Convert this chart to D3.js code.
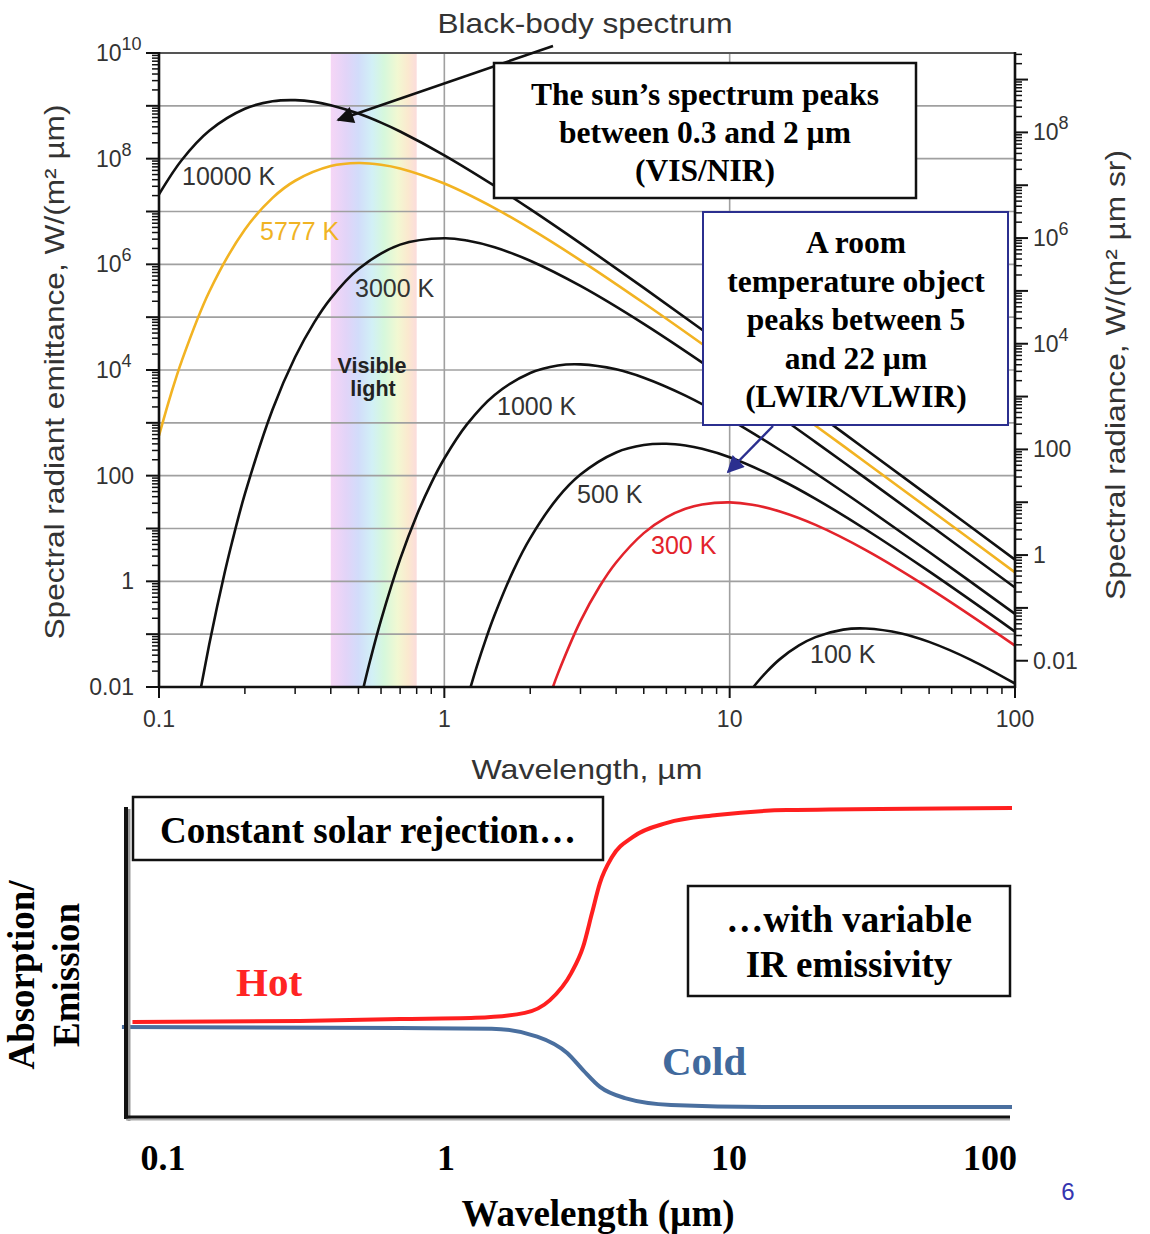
<!DOCTYPE html>
<html><head><meta charset="utf-8">
<script src="https://cdn.jsdelivr.net/npm/d3@7"></script>
<style>body{margin:0;background:#fff}svg{display:block}</style>
</head><body>
<svg id="c" width="1150" height="1234"></svg>
<script>
// ---------- DATA (top panel: spectral radiant emittance, W/(m² µm)) ----------
const temperatures = ["10000 K","5777 K","3000 K","1000 K","500 K","300 K","100 K"];
const wave10000 = [0.1,0.12,0.15,0.2,0.25,0.3,0.35,0.4,0.5,0.6,0.7,1,1.5,2,3,5,10,20,30,50,100];
const emit10000 = [2.11e7,9.33e7,3.37e8,8.79e8,1.22e9,1.28e9,1.19e9,1.03e9,7.14e8,4.81e8,3.27e8,1.16e8,3.06e7,1.11e7,2.50e6,3.59e5,2.42e4,1.57e3,313,41.0,2.58];
const wave5777 = [0.1,0.11,0.12,0.15,0.2,0.25,0.3,0.4,0.5,0.6,0.7,1,1.5,2,3,5,10,20,30,50,100];
const emit5777 = [571,3.41e3,1.46e4,3.03e5,4.57e6,1.81e7,3.82e7,7.24e7,8.28e7,7.69e7,6.53e7,3.38e7,1.16e7,4.73e6,1.19e6,1.85e5,1.32e4,881,178,23.4,1.48];
const wave3000 = [0.14,0.15,0.16,0.17,0.18,0.2,0.25,0.3,0.35,0.4,0.5,0.7,1,1.2,1.5,2,3,5,10,20,30,50,100];
const emit3000 = [0.00923,0.0641,0.342,1.48,5.31,45.1,1.79e3,1.76e4,7.98e4,2.27e5,8.17e5,2.36e6,3.12e6,2.82e6,2.10e6,1.17e6,3.90e5,7.45e4,6.08e3,432,88.9,11.9,0.762];
const wave1000 = [0.52,0.55,0.6,0.7,0.8,0.9,1,1.2,1.5,2,2.5,3,4,5,7,10,15,20,30,50,100];
const emit1000 = [0.00946,0.0324,0.185,2.64,17.7,72.3,211,933,3.37e3,8.79e3,1.22e4,1.28e4,1.03e4,7.14e3,3.27e3,1.16e3,306,111,25.0,3.59,0.242];
const wave500 = [1.2,1.3,1.4,1.5,1.75,2,2.5,3,4,5,6,7,8,10,15,20,30,50,100];
const emit500 = [0.00579,0.0245,0.0824,0.230,1.65,6.59,38.4,105,275,380,401,371,322,223,84.7,36.4,9.57,1.54,0.112];
const wave300 = [2.4,2.5,3,3.5,4,5,6,7,8,10,12,15,20,30,50,100];
const emit300 = [0.00984,0.0179,0.176,0.798,2.27,8.18,16.3,23.6,28.5,31.2,28.2,21.0,11.7,3.90,0.743,0.0608];
const wave100 = [12,12.5,13.5,15,17.5,20,25,30,40,50,70,100];
const emit100 = [0.00933,0.0123,0.0196,0.0337,0.0612,0.0879,0.122,0.128,0.103,0.0714,0.0327,0.0116];
const visibleBand = [0.4, 0.8];

const topXTicks = [0.1, 1, 10, 100];
const topXTickLabels = ["0.1", "1", "10", "100"];
const leftTickValues = [0.01, 1, 100, 1e4, 1e6, 1e8, 1e10];
const leftTickLabels = [["0.01",""],["1",""],["100",""],["10","4"],["10","6"],["10","8"],["10","10"]];
const rightTickValues = [0.01, 1, 100, 1e4, 1e6, 1e8];
const rightTickLabels = [["0.01",""],["1",""],["100",""],["10","4"],["10","6"],["10","8"]];

// ---------- DATA (bottom panel: absorption / emission, relative) ----------
const hotWave  = [0.078,0.305,0.688,1.27,1.90,2.33,2.77,3.05,3.28,3.50,3.86,4.58,6.04,9.07,16.0,100];
const hotValue = [0.309,0.312,0.318,0.322,0.338,0.379,0.466,0.550,0.659,0.756,0.839,0.904,0.949,0.974,0.990,0.997];
const coldWave  = [0.0716,0.688,1.45,2.10,2.68,3.05,3.50,4.29,6.24,16.0,100];
const coldValue = [0.293,0.289,0.287,0.262,0.209,0.154,0.100,0.064,0.042,0.035,0.035];
const bottomXTicks = [0.1, 1, 10, 100];
const bottomXTickLabels = ["0.1", "1", "10", "100"];

// ---------- DRAWING ----------
const svg = d3.select("#c");
const SANS = "'Liberation Sans', Arial, Helvetica, sans-serif";
const SERIF = "'Liberation Serif', 'Times New Roman', serif";
const defs = svg.append("defs");

const x = d3.scaleLog().domain([0.1, 100]).range([159, 1015]);
const y = d3.scaleLog().domain([0.01, 1e10]).range([687, 53]);
const yR = d3.scaleLog().domain([0.01 / Math.PI, 1e10 / Math.PI]).range([687, 53]);

// visible band gradient
const grad = defs.append("linearGradient").attr("id", "vis").attr("x1", "0").attr("x2", "1").attr("y1", "0").attr("y2", "0");
[["0%","#f6d6f6"],["18%","#e2d4f8"],["32%","#d2dcfa"],["48%","#d2f0f6"],["62%","#d6f8dc"],["78%","#f2f8d2"],["90%","#fbe9cf"],["100%","#fbdcdc"]]
  .forEach(s => grad.append("stop").attr("offset", s[0]).attr("stop-color", s[1]));
svg.append("rect").attr("x", x(visibleBand[0])).attr("y", y(1e10))
  .attr("width", x(visibleBand[1]) - x(visibleBand[0])).attr("height", y(0.01) - y(1e10))
  .attr("fill", "url(#vis)");

// gridlines
const gridY = [];
for (let e = -1; e <= 9; e++) gridY.push(Math.pow(10, e));
svg.append("g").selectAll("line").data(gridY).join("line")
  .attr("x1", x(0.1)).attr("x2", x(100)).attr("y1", d => y(d)).attr("y2", d => y(d))
  .attr("stroke", "#a0a0a0").attr("stroke-width", 1.6);
svg.append("g").selectAll("line").data([1, 10]).join("line")
  .attr("x1", d => x(d)).attr("x2", d => x(d)).attr("y1", y(1e10)).attr("y2", y(0.01))
  .attr("stroke", "#a0a0a0").attr("stroke-width", 1.6);

// curves
defs.append("clipPath").attr("id", "plot").append("rect")
  .attr("x", x(0.1)).attr("y", y(1e10)).attr("width", x(100) - x(0.1)).attr("height", y(0.01) - y(1e10));
const series = [
  [wave10000, emit10000, "#111"], [wave5777, emit5777, "#f2b322"], [wave3000, emit3000, "#111"],
  [wave1000, emit1000, "#111"], [wave500, emit500, "#111"], [wave300, emit300, "#e3232b"], [wave100, emit100, "#111"]
];
const line = d3.line().x(d => x(d[0])).y(d => y(d[1])).curve(d3.curveCatmullRom.alpha(0.5));
const gc = svg.append("g").attr("clip-path", "url(#plot)");
series.forEach(s => {
  gc.append("path").datum(d3.zip(s[0], s[1])).attr("d", line)
    .attr("fill", "none").attr("stroke", s[2]).attr("stroke-width", 2.6);
});

// axis ticks
const majorDec = [], minorL = [];
for (let e = -2; e <= 10; e++) {
  majorDec.push(Math.pow(10, e));
  if (e < 10) for (let k = 2; k <= 9; k++) minorL.push(k * Math.pow(10, e));
}
const gAx = svg.append("g").attr("stroke", "#111");
gAx.selectAll(".lm").data(majorDec).join("line").attr("x1", x(0.1) - 13).attr("x2", x(0.1)).attr("y1", d => y(d)).attr("y2", d => y(d)).attr("stroke-width", 2);
gAx.selectAll(".ln").data(minorL).join("line").attr("x1", x(0.1) - 7).attr("x2", x(0.1)).attr("y1", d => y(d)).attr("y2", d => y(d)).attr("stroke-width", 1.5);
const majorR = [], minorR = [];
for (let e = -2; e <= 9; e++) {
  majorR.push(Math.pow(10, e));
  for (let k = 2; k <= 9; k++) minorR.push(k * Math.pow(10, e));
}
minorR.push(2e-3, 3e-3);
const [rlo, rhi] = yR.domain();
gAx.selectAll(".rm").data(majorR.filter(d => d >= rlo && d <= rhi)).join("line").attr("x1", x(100)).attr("x2", x(100) + 13).attr("y1", d => yR(d)).attr("y2", d => yR(d)).attr("stroke-width", 2);
gAx.selectAll(".rn").data(minorR.filter(d => d >= rlo && d <= rhi)).join("line").attr("x1", x(100)).attr("x2", x(100) + 7).attr("y1", d => yR(d)).attr("y2", d => yR(d)).attr("stroke-width", 1.5);
const minorX = [];
for (let e = -1; e <= 1; e++) for (let k = 2; k <= 9; k++) minorX.push(k * Math.pow(10, e));
gAx.selectAll(".xm").data(topXTicks).join("line").attr("x1", d => x(d)).attr("x2", d => x(d)).attr("y1", y(0.01)).attr("y2", y(0.01) + 11).attr("stroke-width", 2);
gAx.selectAll(".xn").data(minorX).join("line").attr("x1", d => x(d)).attr("x2", d => x(d)).attr("y1", y(0.01)).attr("y2", y(0.01) + 7).attr("stroke-width", 1.5);

// frame
svg.append("line").attr("x1", x(0.1)).attr("x2", x(100)).attr("y1", y(1e10)).attr("y2", y(1e10)).attr("stroke", "#555").attr("stroke-width", 2);
svg.append("line").attr("x1", x(0.1)).attr("x2", x(0.1)).attr("y1", y(1e10) - 1).attr("y2", y(0.01) + 1).attr("stroke", "#111").attr("stroke-width", 2.6);
svg.append("line").attr("x1", x(100)).attr("x2", x(100)).attr("y1", y(1e10) - 1).attr("y2", y(0.01) + 1).attr("stroke", "#111").attr("stroke-width", 2.6);
svg.append("line").attr("x1", x(0.1) - 1).attr("x2", x(100) + 1).attr("y1", y(0.01)).attr("y2", y(0.01)).attr("stroke", "#111").attr("stroke-width", 2.6);

// tick labels
const tl = svg.append("g").attr("font-family", SANS).attr("fill", "#333").attr("font-size", 23);
topXTicks.forEach((v, i) => tl.append("text").attr("x", x(v)).attr("y", y(0.01) + 40).attr("text-anchor", "middle").text(topXTickLabels[i]));
function powLabel(g, xx, yy, lab, anchorEnd) {
  const t = g.append("text").attr("y", yy + 8);
  if (lab[1] === "") {
    t.attr("x", xx).attr("text-anchor", anchorEnd ? "end" : "start").text(lab[0]);
  } else {
    t.attr("x", anchorEnd ? 96 : xx).attr("text-anchor", "start");
    t.append("tspan").text(lab[0]);
    t.append("tspan").attr("dy", -11).attr("font-size", 18).text(lab[1]);
  }
}
leftTickValues.forEach((v, i) => powLabel(tl, 134, y(v), leftTickLabels[i], true));
rightTickValues.forEach((v, i) => powLabel(tl, 1033, yR(v), rightTickLabels[i], false));

// axis titles & title
svg.append("text").attr("x", 585).attr("y", 33).attr("text-anchor", "middle").attr("font-family", SANS)
  .attr("font-size", 28).attr("fill", "#333").attr("textLength", 295).attr("lengthAdjust", "spacingAndGlyphs").text("Black-body spectrum");
svg.append("text").attr("x", 587).attr("y", 779).attr("text-anchor", "middle").attr("font-family", SANS)
  .attr("font-size", 28).attr("fill", "#333").attr("textLength", 231).attr("lengthAdjust", "spacingAndGlyphs").text("Wavelength, µm");
svg.append("text").attr("transform", "translate(64,372) rotate(-90)").attr("text-anchor", "middle").attr("font-family", SANS)
  .attr("font-size", 28).attr("fill", "#333").attr("textLength", 535).attr("lengthAdjust", "spacingAndGlyphs").text("Spectral radiant emittance, W/(m² µm)");
svg.append("text").attr("transform", "translate(1125,375) rotate(-90)").attr("text-anchor", "middle").attr("font-family", SANS)
  .attr("font-size", 28).attr("fill", "#333").attr("textLength", 450).attr("lengthAdjust", "spacingAndGlyphs").text("Spectral radiance, W/(m² µm sr)");

// curve labels
const labelPos = [[182,185,"#333"],[260,240,"#f0b324"],[355,297,"#333"],[497,415,"#333"],[577,503,"#333"],[651,554,"#e3232b"],[810,663,"#333"]];
temperatures.forEach((t, i) => svg.append("text").attr("x", labelPos[i][0]).attr("y", labelPos[i][1])
  .attr("font-family", SANS).attr("font-size", 25).attr("fill", labelPos[i][2]).text(t));
svg.append("text").attr("x", 372).attr("y", 373).attr("text-anchor", "middle").attr("font-family", SANS).attr("font-weight", "bold").attr("font-size", 21.5).attr("fill", "#222").text("Visible");
svg.append("text").attr("x", 373).attr("y", 396).attr("text-anchor", "middle").attr("font-family", SANS).attr("font-weight", "bold").attr("font-size", 21.5).attr("fill", "#222").text("light");

// annotation boxes
function mkMarker(id, color) {
  defs.append("marker").attr("id", id).attr("viewBox", "0 0 10 10").attr("refX", 9).attr("refY", 5)
    .attr("markerWidth", 24).attr("markerHeight", 17).attr("markerUnits", "userSpaceOnUse").attr("orient", "auto")
    .append("path").attr("d", "M0,0L10,5L0,10z").attr("fill", color);
}
mkMarker("ahk", "#111");
mkMarker("ahb", "#2b2f8f");
svg.append("line").attr("x1", 553).attr("y1", 46).attr("x2", 338).attr("y2", 120).attr("stroke", "#111").attr("stroke-width", 2.6).attr("marker-end", "url(#ahk)");
svg.append("rect").attr("x", 494).attr("y", 63).attr("width", 422).attr("height", 135).attr("fill", "#fff").attr("stroke", "#111").attr("stroke-width", 2.5);
["The sun’s spectrum peaks", "between 0.3 and 2 µm", "(VIS/NIR)"].forEach((s, i) =>
  svg.append("text").attr("x", 705).attr("y", 105 + i * 38).attr("text-anchor", "middle").attr("font-family", SERIF)
    .attr("font-weight", "bold").attr("font-size", 31.5).attr("fill", "#000").text(s));
svg.append("rect").attr("x", 703).attr("y", 212).attr("width", 305).attr("height", 213).attr("fill", "#fff").attr("stroke", "#2b2f8f").attr("stroke-width", 2);
["A room", "temperature object", "peaks between 5", "and 22 µm", "(LWIR/VLWIR)"].forEach((s, i) =>
  svg.append("text").attr("x", 856).attr("y", 253 + i * 38.5).attr("text-anchor", "middle").attr("font-family", SERIF)
    .attr("font-weight", "bold").attr("font-size", 31.5).attr("fill", "#000").text(s));
svg.append("line").attr("x1", 773).attr("y1", 426).attr("x2", 728).attr("y2", 472).attr("stroke", "#2b2f8f").attr("stroke-width", 2.4).attr("marker-end", "url(#ahb)");

// ---------- bottom panel ----------
const xb = d3.scaleLog().domain([0.1, 100]).range([163, 1012]);
const yb = d3.scaleLinear().domain([0, 1]).range([1118, 807]);
const lineB = d3.line().x(d => xb(d[0])).y(d => yb(d[1])).curve(d3.curveMonotoneX);
svg.append("path").datum(d3.zip(coldWave, coldValue)).attr("d", lineB).attr("fill", "none").attr("stroke", "#4a6f9f").attr("stroke-width", 4);
svg.append("path").datum(d3.zip(hotWave, hotValue)).attr("d", lineB).attr("fill", "none").attr("stroke", "#ff1f1f").attr("stroke-width", 4);
// axes with soft shadow
svg.append("line").attr("x1", 129).attr("x2", 129).attr("y1", 809).attr("y2", 1121).attr("stroke", "#999").attr("stroke-width", 3);
svg.append("line").attr("x1", 126).attr("x2", 126).attr("y1", 807).attr("y2", 1119).attr("stroke", "#111").attr("stroke-width", 4);
svg.append("line").attr("x1", 126).attr("x2", 1010).attr("y1", 1119.5).attr("y2", 1119.5).attr("stroke", "#aaa").attr("stroke-width", 2);
svg.append("line").attr("x1", 124).attr("x2", 1010).attr("y1", 1117).attr("y2", 1117).attr("stroke", "#111").attr("stroke-width", 3);

// boxes drawn before their texts
svg.append("rect").attr("x", 133).attr("y", 797).attr("width", 470).attr("height", 63).attr("fill", "#fff").attr("stroke", "#111").attr("stroke-width", 2.5);
svg.append("rect").attr("x", 688).attr("y", 886).attr("width", 322).attr("height", 110).attr("fill", "#fff").attr("stroke", "#111").attr("stroke-width", 2.5);

const bt = svg.append("g").attr("font-family", SERIF).attr("font-weight", "bold").attr("fill", "#000");
bottomXTicks.forEach((v, i) => bt.append("text").attr("x", xb(v) - (i === 3 ? 22 : 0)).attr("y", 1170)
  .attr("text-anchor", "middle").attr("font-size", 36).text(bottomXTickLabels[i]));
bt.append("text").attr("x", 598).attr("y", 1226).attr("text-anchor", "middle").attr("font-size", 37).text("Wavelength (µm)");
bt.append("text").attr("transform", "translate(34,975) rotate(-90)").attr("text-anchor", "middle").attr("font-size", 37).text("Absorption/");
bt.append("text").attr("transform", "translate(79,975) rotate(-90)").attr("text-anchor", "middle").attr("font-size", 37).text("Emission");
bt.append("text").attr("x", 236).attr("y", 996).attr("font-size", 41).attr("fill", "#ff2424").text("Hot");
bt.append("text").attr("x", 662).attr("y", 1075).attr("font-size", 41).attr("fill", "#41699c").text("Cold");
bt.append("text").attr("x", 368).attr("y", 843).attr("text-anchor", "middle").attr("font-size", 37).text("Constant solar rejection…");
bt.append("text").attr("x", 849).attr("y", 932).attr("text-anchor", "middle").attr("font-size", 37).text("…with variable");
bt.append("text").attr("x", 849).attr("y", 977).attr("text-anchor", "middle").attr("font-size", 37).text("IR emissivity");

svg.append("text").attr("x", 1068).attr("y", 1200).attr("text-anchor", "middle").attr("font-family", SANS).attr("font-size", 24).attr("fill", "#3535b0").text("6");
</script>
</body></html>
